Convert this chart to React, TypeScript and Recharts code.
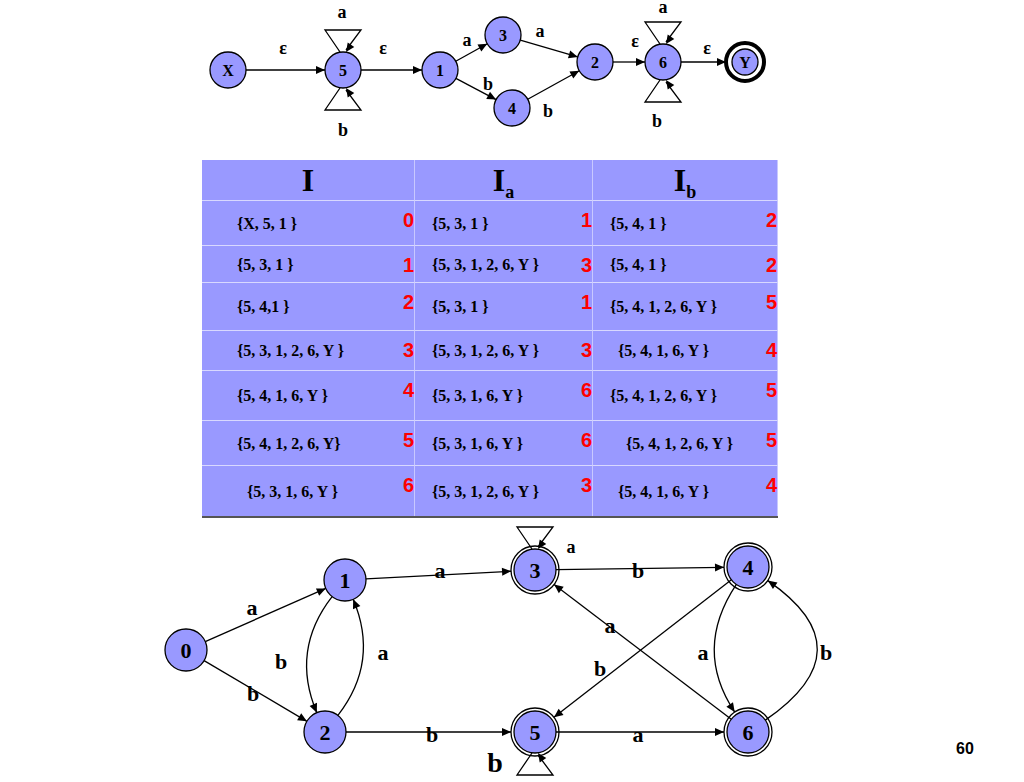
import { ScatterChart, Scatter, XAxis, YAxis } from 'recharts';

const W = 1024;
const H = 782;

// node positions (graph coordinates)
const topNodes = [
  { id: 'tX', label: 'X', x: 228, y: 70 },
  { id: 't5', label: '5', x: 343, y: 70 },
  { id: 't1', label: '1', x: 440, y: 70 },
  { id: 't3', label: '3', x: 503, y: 35 },
  { id: 't4', label: '4', x: 512, y: 108 },
  { id: 't2', label: '2', x: 595, y: 62 },
  { id: 't6', label: '6', x: 663, y: 62 },
  { id: 'tY', label: 'Y', x: 745, y: 62 },
];
const botNodes = [
  { id: 'b0', label: '0', x: 186, y: 650 },
  { id: 'b1', label: '1', x: 345, y: 580 },
  { id: 'b2', label: '2', x: 325, y: 732 },
  { id: 'b3', label: '3', x: 535, y: 570 },
  { id: 'b4', label: '4', x: 748, y: 567 },
  { id: 'b5', label: '5', x: 535, y: 732 },
  { id: 'b6', label: '6', x: 748, y: 732 },
];
const acceptingBot = ['b3', 'b4', 'b5', 'b6'];

// [from, to, bend]
const edges: [string, string, number][] = [
  ['tX', 't5', 0], ['t5', 't1', 0], ['t1', 't3', 0], ['t1', 't4', 0],
  ['t3', 't2', 0], ['t4', 't2', 0], ['t2', 't6', 0], ['t6', 'tY', 0],
  ['b0', 'b1', 0], ['b0', 'b2', 0], ['b1', 'b2', 45], ['b2', 'b1', 45],
  ['b1', 'b3', 0], ['b3', 'b4', 0], ['b2', 'b5', 0], ['b5', 'b6', 0],
  ['b4', 'b5', 0], ['b6', 'b3', 0], ['b4', 'b6', 55], ['b6', 'b4', 120],
];
// [node, direction: -1 up, 1 down]
const loops: [string, number][] = [['t5', -1], ['t5', 1], ['t6', -1], ['t6', 1], ['b3', -1], ['b5', 1]];

const edgeLabels = [
  { t: 'ε', x: 283, y: 48, s: 18 }, { t: 'ε', x: 383, y: 48, s: 18 },
  { t: 'a', x: 342, y: 12, s: 18 }, { t: 'b', x: 343, y: 130, s: 18 },
  { t: 'a', x: 467, y: 40, s: 18 }, { t: 'b', x: 488, y: 84, s: 18 },
  { t: 'a', x: 540, y: 31, s: 18 }, { t: 'b', x: 548, y: 111, s: 18 },
  { t: 'ε', x: 635, y: 41, s: 18 }, { t: 'a', x: 663, y: 7, s: 18 },
  { t: 'ε', x: 707, y: 48, s: 18 }, { t: 'b', x: 657, y: 121, s: 18 },
  { t: 'a', x: 252, y: 607, s: 22 }, { t: 'b', x: 253, y: 693, s: 22 },
  { t: 'b', x: 281, y: 661, s: 22 }, { t: 'a', x: 383, y: 652, s: 22 },
  { t: 'a', x: 440, y: 570, s: 22 }, { t: 'a', x: 571, y: 547, s: 18 },
  { t: 'b', x: 638, y: 570, s: 22 }, { t: 'a', x: 610, y: 625, s: 22 },
  { t: 'b', x: 600, y: 668, s: 22 }, { t: 'a', x: 703, y: 652, s: 22 },
  { t: 'b', x: 826, y: 652, s: 22 }, { t: 'b', x: 432, y: 734, s: 22 },
  { t: 'a', x: 638, y: 734, s: 22 }, { t: 'b', x: 495, y: 762, s: 28 },
];

const headers = ['I', 'a', 'b'];
const colI = ['{X, 5, 1 }', '{5, 3, 1 }', '{5, 4,1 }', '{5, 3, 1, 2, 6, Y }', '{5, 4, 1, 6, Y }', '{5, 4, 1, 2, 6, Y}', '{5, 3, 1, 6, Y }'];
const numI = ['0', '1', '2', '3', '4', '5', '6'];
const colA = ['{5, 3, 1 }', '{5, 3, 1, 2, 6, Y }', '{5, 3, 1 }', '{5, 3, 1, 2, 6, Y }', '{5, 3, 1, 6, Y }', '{5, 3, 1, 6, Y }', '{5, 3, 1, 2, 6, Y }'];
const numA = ['1', '3', '1', '3', '6', '6', '3'];
const colB = ['{5, 4, 1 }', '{5, 4, 1 }', '{5, 4, 1, 2, 6, Y }', '{5, 4, 1, 6, Y }', '{5, 4, 1, 2, 6, Y }', '{5, 4, 1, 2, 6, Y }', '{5, 4, 1, 6, Y }'];
const numB = ['2', '2', '5', '4', '5', '5', '4'];

const allNodes = [...topNodes, ...botNodes];
const find = (id: string) => allNodes.find((n) => n.id === id)!;
const radius = (id: string) => (id[0] === 't' ? 18 : 21);
const FILL = '#9999ff';

const edgeData = edges.map(([f, t, bend]) => {
  const a = find(f), b = find(t);
  return { x: a.x, y: a.y, dx: b.x - a.x, dy: b.y - a.y, bend, r1: radius(f), r2: t === 'tY' ? 19 : radius(t) + (acceptingBot.includes(t) ? 3 : 0) };
});
const loopData = loops.map(([id, dir]) => ({ ...find(id), dir, r: radius(id) }));

function Arrow({ x, y, ux, uy }: { x: number; y: number; ux: number; uy: number }) {
  const L = 9, w = 4;
  const bx = x - ux * L, by = y - uy * L;
  return <polygon points={`${x},${y} ${bx - uy * w},${by + ux * w} ${bx + uy * w},${by - ux * w}`} fill="#000" />;
}

const EdgeShape = (p: any) => {
  const { cx, cy, payload } = p;
  const x2 = cx + payload.dx, y2 = cy + payload.dy;
  const len = Math.hypot(payload.dx, payload.dy);
  const nx = -payload.dy / len, ny = payload.dx / len;
  const qx = (cx + x2) / 2 + nx * payload.bend, qy = (cy + y2) / 2 + ny * payload.bend;
  const u1 = Math.hypot(qx - cx, qy - cy), u2 = Math.hypot(qx - x2, qy - y2);
  const sx = cx + ((qx - cx) / u1) * payload.r1, sy = cy + ((qy - cy) / u1) * payload.r1;
  const ex = x2 + ((qx - x2) / u2) * payload.r2, ey = y2 + ((qy - y2) / u2) * payload.r2;
  return (
    <g>
      <path d={`M${sx},${sy} Q${qx},${qy} ${ex},${ey}`} fill="none" stroke="#000" strokeWidth={1.3} />
      <Arrow x={ex} y={ey} ux={(x2 - qx) / u2} uy={(y2 - qy) / u2} />
    </g>
  );
};

const LoopShape = (p: any) => {
  const { cx, cy, payload } = p;
  const d = payload.dir, r = payload.r;
  const ay = cy + d * r, by = cy + d * (r + 22);
  return (
    <g>
      <path d={`M${cx - 3},${ay} L${cx - 18},${by} L${cx + 18},${by} L${cx + 3},${ay + d * 2}`} fill="none" stroke="#000" strokeWidth={1.3} />
      <Arrow x={cx + 3} y={ay} ux={-15 / 27} uy={-d * (22 / 27)} />
    </g>
  );
};

const NodeShape = (p: any) => {
  const { cx, cy, payload } = p;
  const r = radius(payload.id);
  const acc = acceptingBot.includes(payload.id);
  const isY = payload.id === 'tY';
  return (
    <g>
      {isY && <circle cx={cx} cy={cy} r={r + 1} fill="none" stroke="#000" strokeWidth={4} />}
      {acc && <circle cx={cx} cy={cy} r={r + 3} fill="none" stroke="#000" strokeWidth={1.3} />}
      <circle cx={cx} cy={cy} r={isY ? r - 5 : r} fill={FILL} stroke="#000" strokeWidth={1.3} />
      <text x={cx} y={cy} dy="0.35em" textAnchor="middle" fontFamily="Liberation Serif" fontWeight="bold" fontSize={payload.id[0] === 't' ? 16 : 22}>{payload.label}</text>
    </g>
  );
};

const LabelShape = (p: any) => (
  <text x={p.cx} y={p.cy} dy="0.35em" textAnchor="middle" fontFamily="Liberation Serif" fontWeight="bold" fontSize={p.payload.s}>{p.payload.t}</text>
);

const rowH = [45, 37, 48, 40, 50, 45, 51];
const colW = [213, 178, 185];
const cellText: React.CSSProperties = { fontFamily: 'Liberation Serif', fontWeight: 'bold', fontSize: 16, whiteSpace: 'nowrap' };
const red: React.CSSProperties = { fontFamily: 'Liberation Sans', fontWeight: 'bold', fontSize: 20, color: '#ff0000', position: 'absolute', right: 0, top: 8 };

function Cell({ text, num, w, h, pad }: { text: string; num: string; w: number; h: number; pad: number }) {
  return (
    <div style={{ position: 'relative', width: w, height: h, boxSizing: 'border-box', borderRight: '1px solid #c8c8ff', borderTop: '1px solid #d8d8ff' }}>
      <span style={{ ...cellText, position: 'absolute', left: pad, top: h / 2 - 9 }}>{text}</span>
      <span style={red}>{num}</span>
    </div>
  );
}

export default function App() {
  return (
    <div style={{ position: 'absolute', left: 0, top: 0, width: W, height: H, background: '#fff' }}>
      <ScatterChart width={W} height={H} margin={{ top: 0, right: 0, bottom: 0, left: 0 }}>
        <XAxis type="number" dataKey="x" domain={[0, W]} hide />
        <YAxis type="number" dataKey="y" domain={[0, H]} reversed hide />
        <Scatter data={edgeData} shape={EdgeShape} isAnimationActive={false} />
        <Scatter data={loopData} shape={LoopShape} isAnimationActive={false} />
        <Scatter data={allNodes} shape={NodeShape} isAnimationActive={false} />
        <Scatter data={edgeLabels} shape={LabelShape} isAnimationActive={false} />
      </ScatterChart>
      <div style={{ position: 'absolute', left: 202, top: 160, width: 576, background: FILL, borderBottom: '2px solid #555' }}>
        <div style={{ display: 'flex', height: 40 }}>
          {headers.map((h, i) => (
            <div key={i} style={{ width: colW[i], textAlign: 'center', fontFamily: 'Liberation Serif', fontWeight: 'bold', fontSize: 32, lineHeight: '40px', borderRight: '1px solid #c8c8ff' }}>
              I{i > 0 && <sub style={{ fontSize: 18 }}>{h}</sub>}
            </div>
          ))}
        </div>
        {colI.map((_, r) => (
          <div key={r} style={{ display: 'flex' }}>
            <Cell text={colI[r]} num={numI[r]} w={colW[0]} h={rowH[r]} pad={r === 6 ? 45 : 35} />
            <Cell text={colA[r]} num={numA[r]} w={colW[1]} h={rowH[r]} pad={17} />
            <Cell text={colB[r]} num={numB[r]} w={colW[2]} h={rowH[r]} pad={r === 3 || r === 6 ? 25 : r === 5 ? 33 : 17} />
          </div>
        ))}
      </div>
      <div style={{ position: 'absolute', left: 956, top: 740, fontFamily: 'Liberation Sans', fontWeight: 'bold', fontSize: 16 }}>60</div>
    </div>
  );
}
